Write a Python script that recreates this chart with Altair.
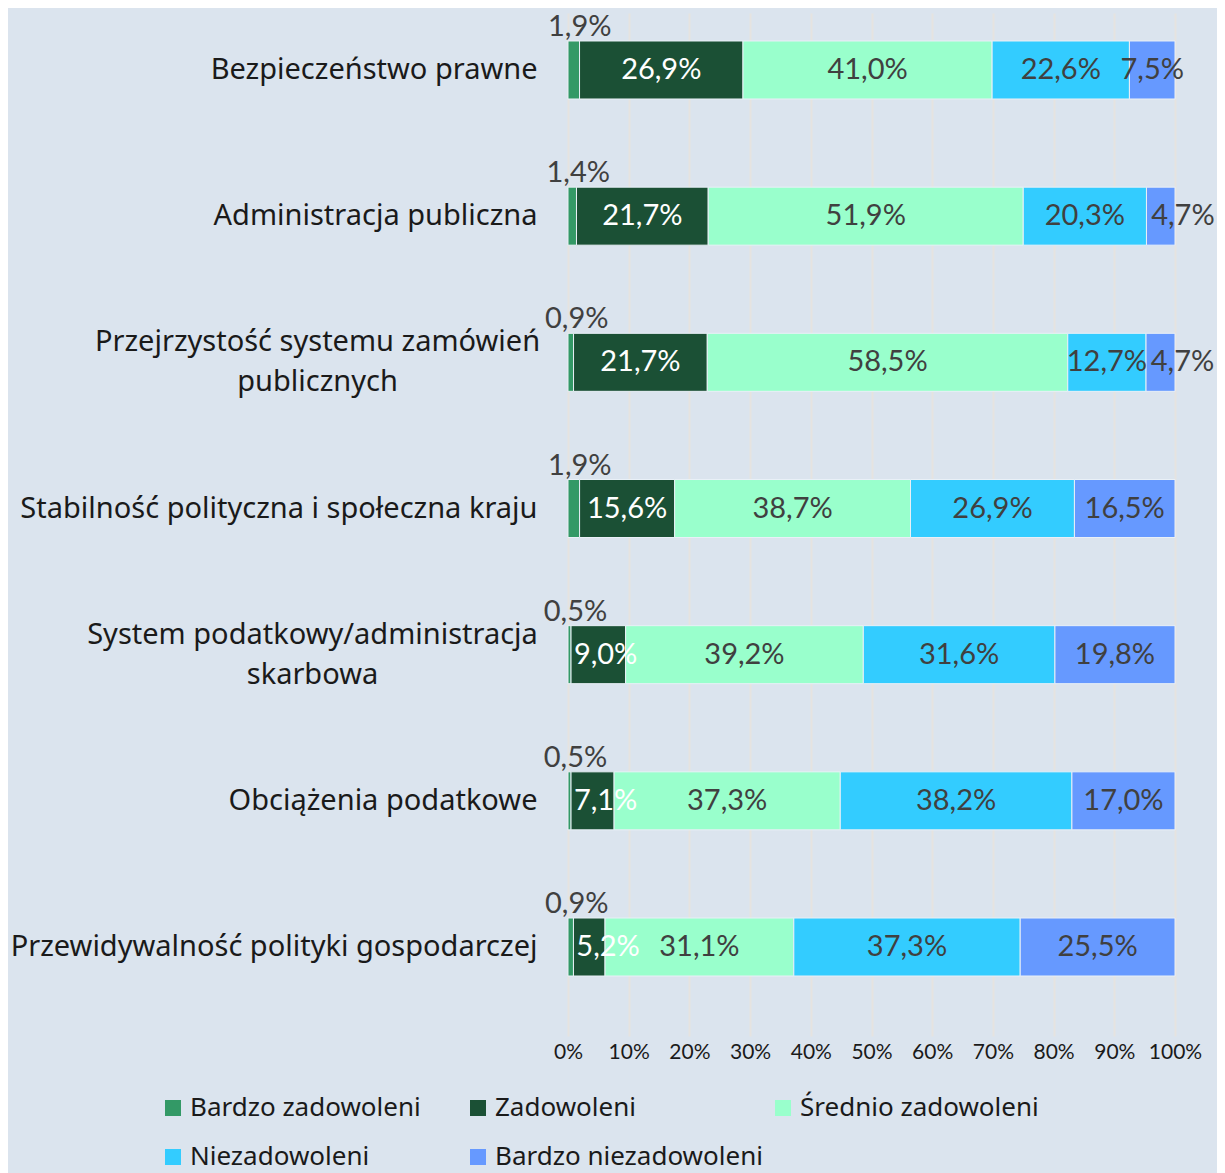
import json
import altair as alt
import pandas as pd

categories = [
    "Bezpieczeństwo prawne",
    "Administracja publiczna",
    "Przejrzystość systemu zamówień publicznych",
    "Stabilność polityczna i społeczna kraju",
    "System podatkowy/administracja skarbowa",
    "Obciążenia podatkowe",
    "Przewidywalność polityki gospodarczej",
]
series = ["Bardzo zadowoleni", "Zadowoleni", "Średnio zadowoleni",
          "Niezadowoleni", "Bardzo niezadowoleni"]
bardzo_zadowoleni = [1.9, 1.4, 0.9, 1.9, 0.5, 0.5, 0.9]
zadowoleni = [26.9, 21.7, 21.7, 15.6, 9.0, 7.1, 5.2]
srednio_zadowoleni = [41.0, 51.9, 58.5, 38.7, 39.2, 37.3, 31.1]
niezadowoleni = [22.6, 20.3, 12.7, 26.9, 31.6, 38.2, 37.3]
bardzo_niezadowoleni = [7.5, 4.7, 4.7, 16.5, 19.8, 17.0, 25.5]
colors = ["#339966", "#1b5035", "#99ffcc", "#33ccff", "#6699ff"]
x_ticks = [0, 0.1, 0.2, 0.3, 0.4, 0.5, 0.6, 0.7, 0.8, 0.9, 1.0]
line_breaks = {
    "Przejrzystość systemu zamówień publicznych": ["Przejrzystość systemu zamówień", "publicznych"],
    "System podatkowy/administracja skarbowa": ["System podatkowy/administracja", "skarbowa"],
}

values = [bardzo_zadowoleni, zadowoleni, srednio_zadowoleni, niezadowoleni, bardzo_niezadowoleni]
rows = []
for si, (s, vals) in enumerate(zip(series, values)):
    for c, v in zip(categories, vals):
        rows.append({"category": c, "series": s, "order": si, "value": v,
                     "label": f"{v:.1f}".replace(".", ",") + "%"})
df = pd.DataFrame(rows)

label_expr = "datum.label"
for k, v in line_breaks.items():
    label_expr = f"datum.value == {json.dumps(k)} ? {json.dumps(v)} : " + label_expr
two_line = json.dumps(list(line_breaks.keys()))

CAT_FONT = "Noto Sans"
NUM_FONT = "Lato"

y_enc = alt.Y(
    "category:N", sort=categories,
    scale=alt.Scale(range=[-11.1, 1012.1], paddingInner=0, paddingOuter=0),
    axis=alt.Axis(
        title=None, domain=False, ticks=False, grid=False,
        labelFont=CAT_FONT, labelFontSize=29, labelColor="#1a1a1a",
        labelLimit=700, labelLineHeight=40,
        labelExpr=label_expr,
        labelAlign={"condition": {"test": f"indexof({two_line}, datum.value) >= 0", "value": "center"}, "value": "right"},
        labelOffset={"condition": {"test": f"indexof({two_line}, datum.value) >= 0", "value": -20}, "value": 0},
        labelPadding={"condition": [
            {"test": f"datum.value == {json.dumps(categories[2])}", "value": 251},
            {"test": f"datum.value == {json.dumps(categories[4])}", "value": 256},
        ], "value": 31},
    ),
)

# narrow segments: labels start just after the segment's left edge
base = alt.Chart(df).transform_stack(
    stack="value", groupby=["category"], sort=[alt.SortField("order")],
    as_=["x0", "x1"], offset="normalize",
).transform_calculate(
    mid="(datum.x0 + datum.x1) / 2",
).transform_calculate(
    lx=f"(datum.series == {json.dumps(series[1])} && datum.x1 - datum.x0 < 0.1) ? datum.x0 + 0.057 : "
       f"((datum.series == {json.dumps(series[4])} && datum.x1 - datum.x0 < 0.06) ? datum.x0 + 0.06 : datum.mid)"
)

x_scale = alt.Scale(domain=[0, 1])

bars = base.mark_bar(size=58, stroke="#e9f0f7", strokeWidth=1).encode(
    x=alt.X("x0:Q", scale=x_scale,
            axis=alt.Axis(title=None, values=x_ticks, format=".0%", grid=True,
                          gridColor="#e6e3e0", gridWidth=2, domain=False, ticks=False,
                          labelOverlap=False, labelFlush=False,
                          labelFont=NUM_FONT, labelFontSize=21, labelColor="#1a1a1a",
                          labelBaseline="middle", labelPadding=27)),
    x2="x1:Q",
    y=y_enc,
    color=alt.Color("series:N", scale=alt.Scale(domain=series, range=colors),
                    legend=alt.Legend(
                        title=None, orient="none", legendX=-408, legendY=1087,
                        direction="horizontal", columns=3, gridAlign="all",
                        columnPadding=7, rowPadding=23,
                        symbolType="square", symbolSize=256, symbolStrokeWidth=0,
                        labelFont=CAT_FONT, labelFontSize=26, labelColor="#1a1a1a",
                        labelOffset=4, labelLimit=400)),
)

inner_labels = base.transform_filter(
    alt.datum.series != series[0]
).mark_text(font=NUM_FONT, fontSize=29, baseline="middle", align="center").encode(
    x=alt.X("lx:Q", scale=x_scale),
    y=y_enc,
    text="label:N",
    color=alt.condition(alt.datum.series == series[1], alt.value("#ffffff"), alt.value("#404040")),
)

top_labels = base.transform_filter(
    alt.datum.series == series[0]
).mark_text(font=NUM_FONT, fontSize=29, baseline="middle", align="center",
            dy=-43, dx=6, color="#404040").encode(
    x=alt.X("mid:Q", scale=x_scale),
    y=y_enc,
    text="label:N",
)

chart = alt.layer(bars, inner_labels, top_labels).properties(
    width=607, height=1017,
    autosize=alt.AutoSizeParams(type="none"),
    padding={"left": 560, "top": 0, "right": 42, "bottom": 148},
    background="#dbe4ee",
).configure_view(stroke=None)

chart.save("out.html", embed_options={"renderer": "svg", "actions": False})
